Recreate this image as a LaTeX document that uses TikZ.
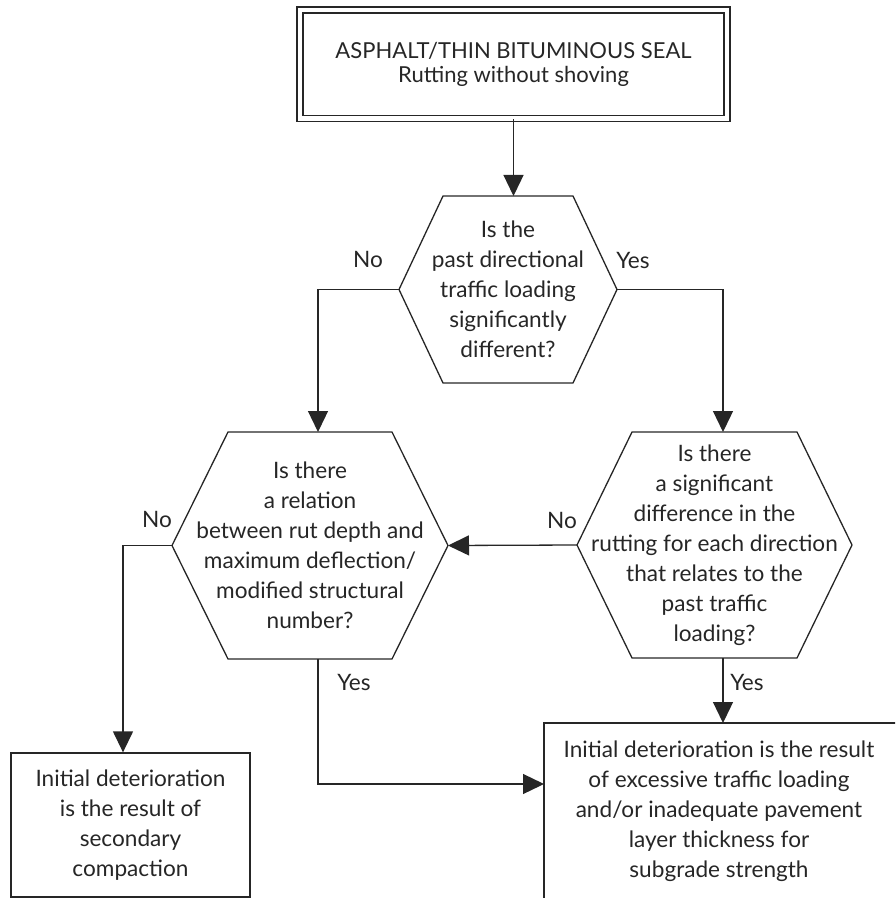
\documentclass[tikz,border=0pt]{standalone}
\usepackage{fontspec}
\setmainfont{Lato}
\usetikzlibrary{arrows.meta}

\begin{document}
\begin{tikzpicture}[x=0.5pt,y=-0.5pt,
  frame/.style={draw=black!85,line width=0.65pt},
  arr/.style={draw=black!85,line width=0.65pt,-{Triangle[length=10.5pt,width=10pt]}},
  hexq/.style={align=center,inner sep=0pt,outer sep=0pt,text=black!85,
    font=\fontsize{11.3}{15}\selectfont},
  resbox/.style={frame,align=center,inner sep=0pt,text=black!85,
    font=\fontsize{11.3}{15}\selectfont},
  lab/.style={inner sep=1pt,text=black!85,font=\fontsize{11.3}{12}\selectfont}]
  % page: 895 x 898 px, 1px = 0.5pt, y runs downwards
  \useasboundingbox (0,0) rectangle (895,898);
  \clip (0,0) rectangle (895,898);

  % Title box, double frame
  \node[frame,double,double distance=2.4pt,align=center,inner sep=0pt,
    minimum width=213.5pt,minimum height=54.25pt,text=black!85,
    font=\fontsize{11}{12}\selectfont] (top) at (513.5,64.25)
    {ASPHALT/THIN BITUMINOUS SEAL\\Rutting without shoving};

  % Questions (hexagons drawn round the nodes below)
  \node[hexq,minimum width=109pt,minimum height=93.5pt] (q1) at (508,289.5)
    {Is the\\past directional\\traffic loading\\significantly\\different?};
  \node[hexq,minimum width=138pt,minimum height=113.5pt] (q2) at (310,545.5)
    {Is there\\a relation\\between rut depth and\\maximum deflection/\\modified structural\\number?};
  \node[hexq,minimum width=137.5pt,minimum height=113pt] (q3) at (714.5,545)
    {Is there\\a significant\\difference in the\\rutting for each direction\\that relates to the\\past traffic\\loading?};
  \foreach \q/\c in {q1/22pt, q2/28pt, q3/27.5pt} {
    \draw[frame] (\q.west) -- ([xshift=\c]\q.north west) -- ([xshift=-\c]\q.north east)
      -- (\q.east) -- ([xshift=-\c]\q.south east) -- ([xshift=\c]\q.south west) -- cycle;
  }

  % Results
  \node[resbox,minimum width=119.5pt,minimum height=72pt] (res1) at (130.5,825)
    {Initial deterioration\\is the result of\\secondary\\compaction};
  % right box runs off the page: only its top and left sides show
  \node[hexq,minimum width=175pt,minimum height=88pt] (res2) at (719,811)
    {Initial deterioration is the result\\of excessive traffic loading\\and/or inadequate pavement\\layer thickness for\\subgrade strength};
  \draw[frame] ([xshift=20pt]res2.north east) -- (res2.north west) -- ([yshift=-20pt]res2.south west);

  % Connectors
  \draw[arr] (top.south) -- (top.south |- q1.north);
  \draw[arr] (q1.west) -| ([xshift=4pt]q2.north);
  \draw[arr] (q1.east) -| ([xshift=4.25pt]q3.north);
  \draw[arr] (q3.west) -- (q2.east);
  \draw[arr] (q2.west) -| ([xshift=-3.75pt]res1.north);
  \draw[arr] ([xshift=4pt]q2.south) |- ([yshift=13.5pt]res2.west);
  \draw[arr] ([xshift=4.25pt]q3.south) -- ([xshift=4.25pt]q3.south |- res2.north);

  % Branch labels
  \node[lab] (no1) at (368,259) {No};
  \node[lab] (yes1) at (633,260) {Yes};
  \node[lab] (no2) at (157,519) {No};
  \node[lab] (no3) at (562,520) {No};
  \node[lab] (yes2) at (354,682) {Yes};
  \node[lab] (yes3) at (747,682) {Yes};
\end{tikzpicture}
\end{document}
